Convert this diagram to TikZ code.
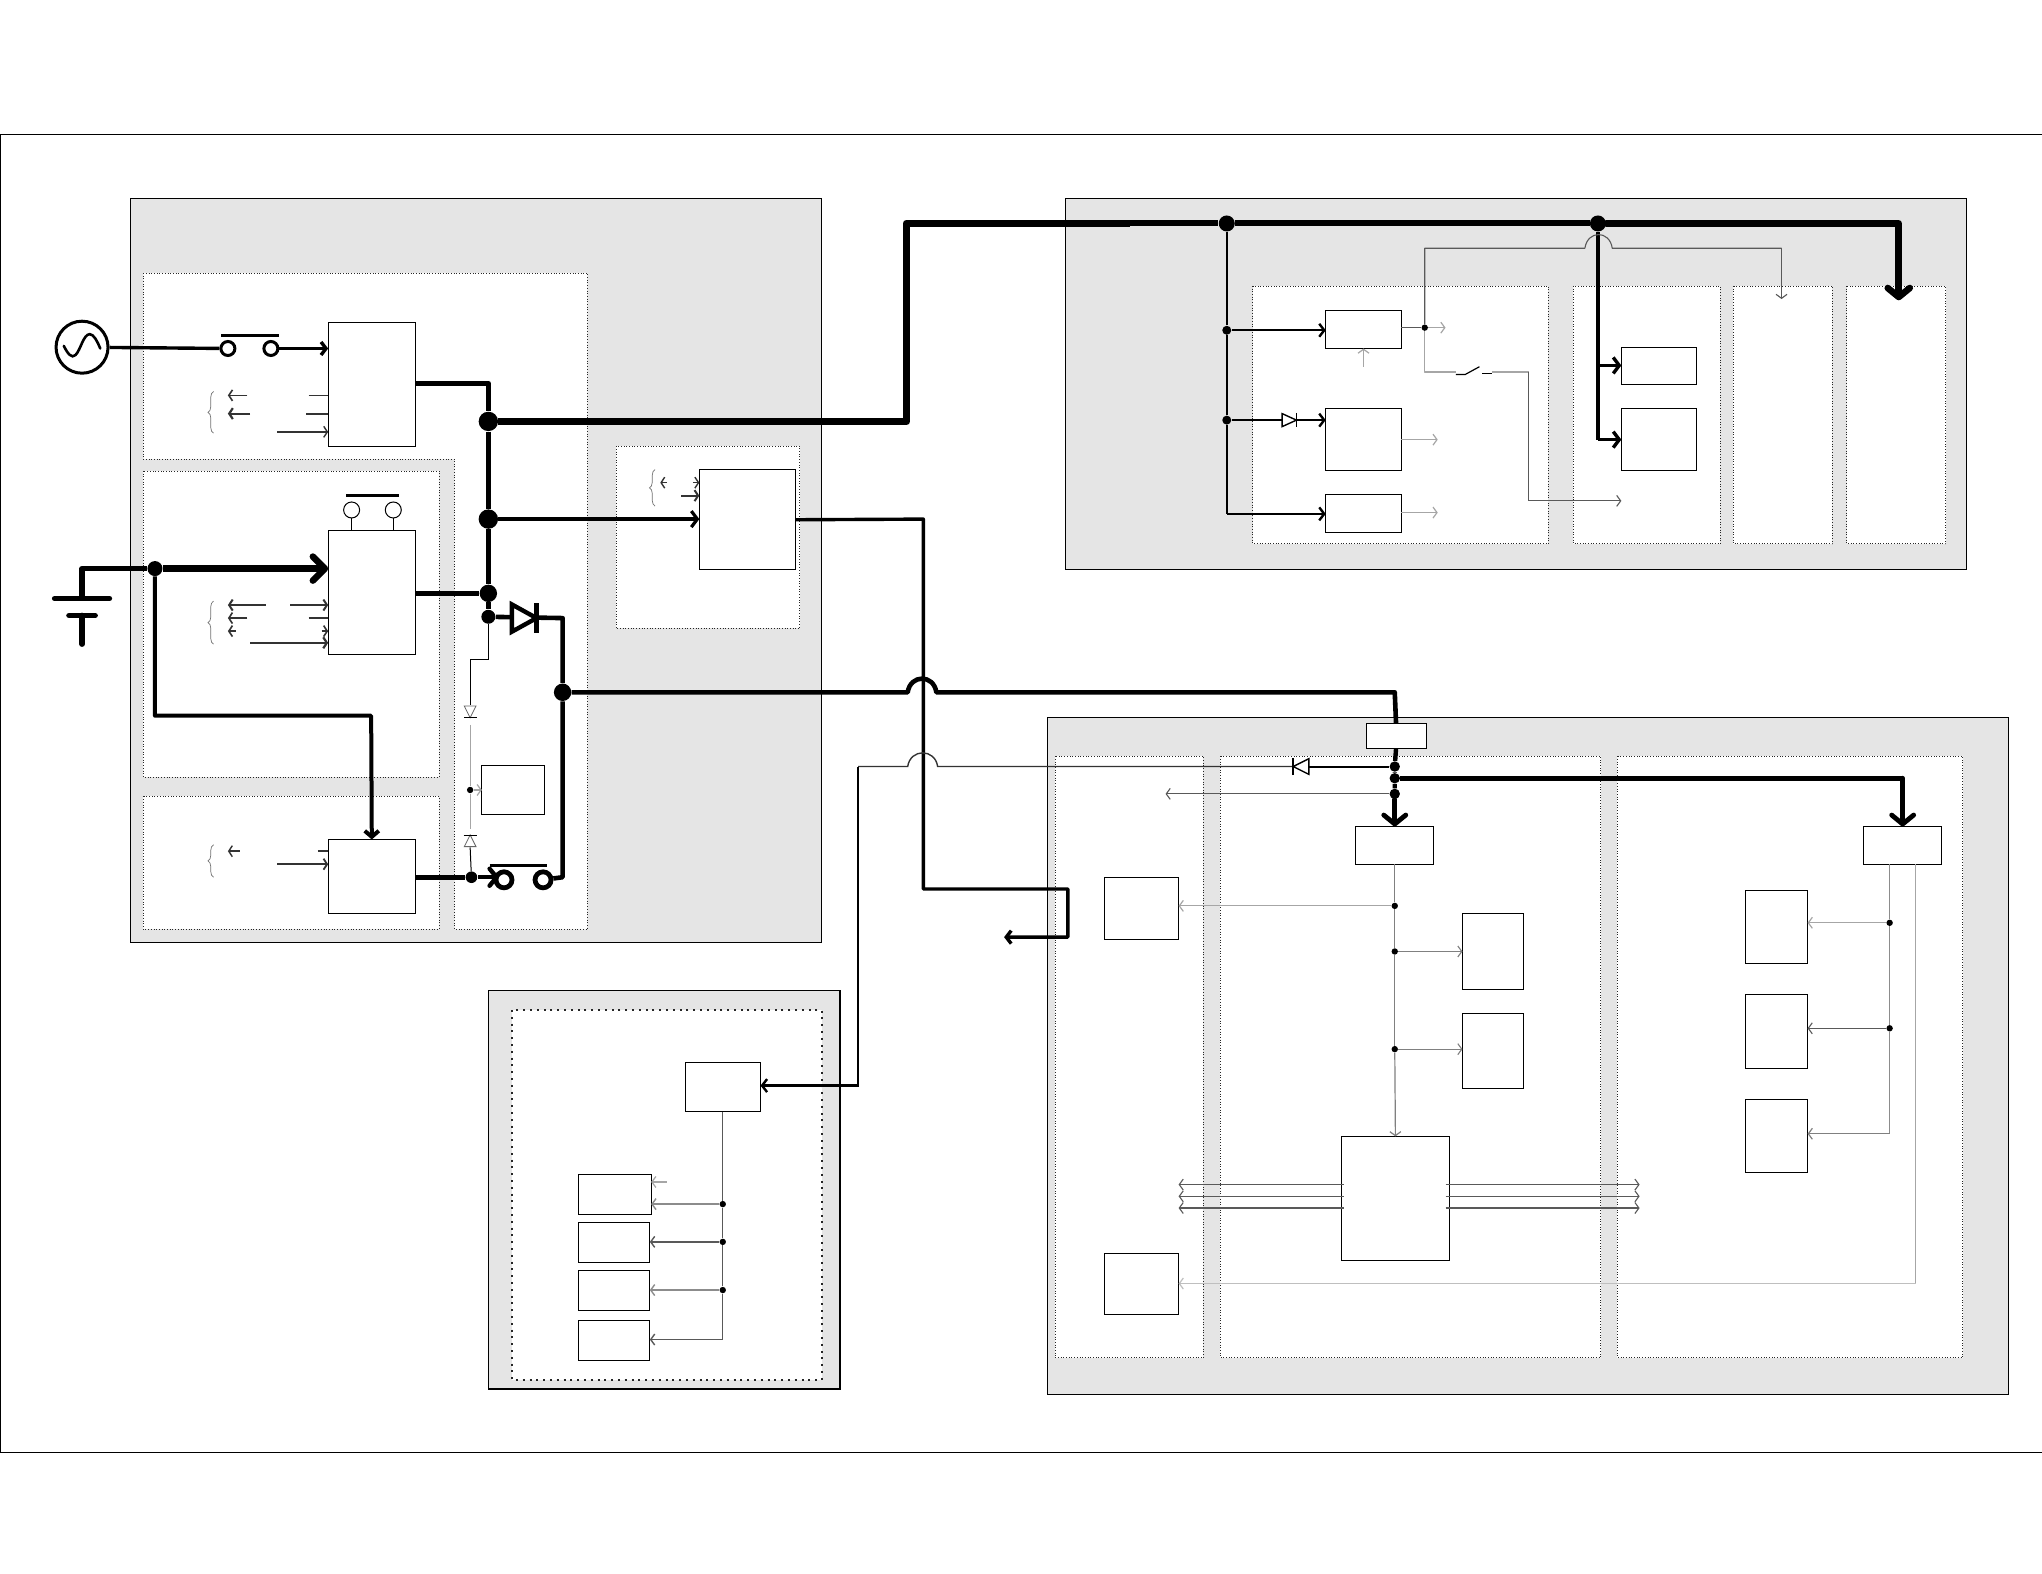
\documentclass[tikz,border=0pt]{standalone}
\usepackage{xcolor}
\usetikzlibrary{arrows.meta, fit, decorations.pathreplacing}
\definecolor{panelgray}{HTML}{E5E5E5}
\tikzset{
  panel/.style={rectangle, draw=black, line width=.55pt, fill=panelgray},
  region/.style={draw=black!85, densely dotted, line width=.35pt, fill=white},
  box/.style={rectangle, draw=black, line width=.5pt, fill=white, inner sep=0pt, outer sep=0pt},
  dot/.style={circle, fill=black, inner sep=0pt, minimum size=#1},
  dot/.default=3.2pt,
  terminal/.style={circle, draw=black, fill=white, line width=1.5pt, inner sep=0pt, minimum size=7pt},
  contact/.style={circle, draw=black, fill=white, line width=.5pt, inner sep=0pt, minimum size=8pt},
  source/.style={circle, draw=black, fill=white, line width=1.5pt, inner sep=0pt, minimum size=26pt},
  busline/.style={line width=3.3pt, line cap=round, line join=round},
  feedline/.style={line width=2.8pt, line join=round},
  powerline/.style={line width=1.7pt, line join=round},
  wireline/.style={line width=1pt, line join=round},
  signalline/.style={draw=black!65, line width=.55pt, line join=round},
  faintline/.style={draw=black!35, line width=.6pt, line join=round},
  bigtip/.style={-{Straight Barb[round,length=4.5pt,width=11pt]}},
  powertip/.style={-{Straight Barb[length=2.5pt,width=6.5pt]}},
  thintip/.style={-{Straight Barb[length=2pt,width=5.5pt]}},
  diode/.pic={
    \path[pic actions, fill=white] (-1,-1) -- (1,0) -- (-1,1) -- cycle;
    \draw[black] (1,-1.1) -- (1,1.1);
  },
}
\begin{document}
\begin{tikzpicture}[x=.6512pt, y=-.6512pt]
  \useasboundingbox (0,0) rectangle (1568,1208);
  \draw[black, line width=.4pt] (0,103) rectangle (1568,1115);

  \begin{scope}[shift={(0,.6)}]
  \node[panel, inner sep=0pt, fit={(100,152) (631,723)}] (psupanel) {};
  \node[panel, inner sep=0pt, fit={(818,152) (1510,437)}] (railpanel) {};
  \node[panel, inner sep=0pt, fit={(804,550) (1542,1070)}] (logicpanel) {};
  \node[panel, inner sep=0pt, fit={(375,760) (645,1066)}] (lamppanel) {};

  \draw[region] (110,209) -- (451,209) -- (451,713) -- (349,713) -- (349,352) -- (110,352) -- cycle;
  \draw[region] (110,361) rectangle (337,596);
  \draw[region] (110,611) rectangle (337,713);
  \draw[region] (473,342) rectangle (614,482);
  \draw[region] (962,219) rectangle (1189,417);
  \draw[region] (1208,219) rectangle (1321,417);
  \draw[region] (1331,219) rectangle (1407,417);
  \draw[region] (1418,219) rectangle (1494,417);
  \draw[region] (810,580) rectangle (924,1042);
  \draw[region] (937,580) rectangle (1229,1042);
  \draw[region] (1242,580) rectangle (1507,1042);
  \draw[region, line width=1pt, dash pattern=on 1pt off 2.4pt] (393,775) rectangle (631,1059);

  \node[box, fit={(252,247) (319,342)}] (rect) {};
  \node[box, fit={(252,407) (319,502)}] (charger) {};
  \node[box, fit={(252,644) (319,701)}] (batbox) {};
  \node[box, fit={(537,360) (611,437)}] (conv) {};
  \node[box, fit={(370,587) (418,625)}] (sense) {};

  \node[box, fit={(1018,238) (1076,267)}] (reg1) {};
  \node[box, fit={(1018,313) (1076,361)}] (reg2) {};
  \node[box, fit={(1018,379) (1076,408)}] (reg3) {};
  \node[box, fit={(1245,266) (1303,295)}] (drv1) {};
  \node[box, fit={(1245,313) (1303,361)}] (drv2) {};

  \node[box, fit={(1049,555) (1095,574)}] (fuse) {};
  \node[box, fit={(1041,634) (1101,663)}] (reglogic) {};
  \node[box, fit={(1431,634) (1491,663)}] (regio) {};
  \node[box, fit={(848,673) (905,721)}] (left1) {};
  \node[box, fit={(848,962) (905,1009)}] (left2) {};
  \node[box, fit={(1123,701) (1170,759)}] (mid1) {};
  \node[box, fit={(1123,778) (1170,835)}] (mid2) {};
  \node[box, fit={(1030,872) (1113,967)}] (cpu) {};
  \node[box, fit={(1340,683) (1388,739)}] (right1) {};
  \node[box, fit={(1340,763) (1388,820)}] (right2) {};
  \node[box, fit={(1340,844) (1388,900)}] (right3) {};

  \node[box, fit={(526,815) (584,853)}] (lampdrv) {};
  \node[box, fit={(444,901) (500,932)}] (lamp1) {};
  \node[box, fit={(444,938) (499,969)}] (lamp2) {};
  \node[box, fit={(444,975) (499,1006)}] (lamp3) {};
  \node[box, fit={(444,1013) (499,1044)}] (lamp4) {};

  \node[source] (ac) at (63,266) {};
  \draw[line width=1.3pt, line cap=round] (49,265) .. controls (52,271) and (55,275) .. (58,272) .. controls (62,268) and (64,256) .. (69,256) .. controls (72,256) and (75,262) .. (77,267);
  \node[terminal] (swa) at (175,267) {};
  \node[terminal] (swb) at (208,267) {};
  \draw[line width=1.5pt] (170,257) -- (214,257);
  \draw[powerline] (ac) -- (swa);
  \draw[powerline, powertip] (swb) -- (swb -| rect.west);

  \node[dot=9.7pt] (jbusa) at (375,323) {};
  \node[dot=9.7pt] (jbusb) at (375,398) {};
  \node[dot=8.7pt] (jbusc) at (375,455) {};
  \node[dot=7pt] (jbusd) at (375,473) {};
  \node[dot=8.7pt] (jout) at (432,531) {};
  \coordinate (railtop) at (375,294);
  \draw[feedline] (rect.east |- railtop) -- (railtop) -- (jbusa);
  \draw[feedline] (jbusa) -- (jbusb) -- (jbusc);
  \draw[feedline] (jbusc -| charger.east) -- (jbusc);
  \draw[powerline, line width=2.2pt] (jbusc) -- (jbusd);

  \coordinate (busjog) at (868,171);
  \node[dot=8pt] (jraila) at (942,171) {};
  \node[dot=8pt] (jrailb) at (1227,171) {};
  \coordinate (buscorner) at (1458,171);
  \coordinate (busend) at (1458,230);
  \draw[busline, line width=3.8pt, line cap=butt] (jbusa) -| (696,171) -- (busjog);
  \draw[busline, line width=3pt, line cap=butt] (busjog) -- (jraila);
  \draw[busline, line width=3pt, line cap=butt] (jraila) -- (jrailb);
  \draw[busline, bigtip] (jrailb) -- (buscorner) -- (busend);

  \draw[powerline, powertip, line width=1.6pt, -{Straight Barb[length=3pt,width=8pt]}] (jbusb) -- (jbusb -| conv.west);

  \coordinate (convout) at (conv.east);
  \coordinate (mainsout) at (771,719);
  \draw[powerline, powertip] (convout) -- (709,398) -- (709,682) -- (820,682) -- (820,719) -- (mainsout);

  \node[dot=5.8pt] (jbat) at (362,673) {};
  \coordinate (swcin) at (383,673);
  \draw[powerline, line width=2.4pt] (jbat -| batbox.east) -- (jbat);
  \draw[powerline, line width=2.2pt, -{Straight Barb[round,length=3.5pt,width=8.5pt]}] (jbat) -- (swcin);
  \node[terminal, line width=2.4pt, minimum size=8pt] (swc) at (387,675) {};
  \node[terminal, line width=2.4pt, minimum size=8pt] (swd) at (417,675) {};
  \draw[line width=1.8pt] (376,664) -- (420,664);
  \coordinate (dcorner) at (432,474);
  \coordinate (dbottom) at (432,673);
  \draw[powerline, line width=2.3pt] (jbusd) -- (dcorner) -- (jout) -- (dbottom) -- (swd);
  \pic[draw=black, line width=2.2pt, xscale=9.5, yscale=10.5] at (402.5,474) {diode};

  \coordinate (hopa) at (697,531);
  \coordinate (hopb) at (719,531);
  \coordinate (fusecorner) at (1071,531);
  \draw[powerline, line width=2.3pt] (jout) -- (hopa) .. controls +(2,-14) and +(-2,-14) .. (hopb) -- (fusecorner) -- (fuse.north);

  \node[dot=7.5pt] (jbatt) at (119,436) {};
  \coordinate (battop) at (63,436);
  \coordinate (batplus) at (63,459);
  \coordinate (batminus) at (63,472);
  \coordinate (batend) at (63,494);
  \draw[feedline] (jbatt) -- (battop) -- (batplus);
  \draw[feedline, line cap=round] (42,459) -- (84,459);
  \draw[feedline, line cap=round] (53,472) -- (73,472);
  \draw[feedline, line cap=round] (batminus) -- (batend);
  \draw[busline, line cap=butt, bigtip, -{Straight Barb[round,length=6pt,width=12pt]}] (jbatt) -- (jbatt -| charger.west);
  \draw[powerline, line width=2pt, -{Straight Barb[length=3pt,width=7pt]}] (jbatt) |- (285,549) -- (batbox.north);

  \node[contact] (btna) at (270,391) {};
  \node[contact] (btnb) at (302,391) {};
  \draw[line width=1.2pt] (266,380) -- (306,380);
  \draw[line width=.5pt] (btna) -- (btna |- charger.north);
  \draw[line width=.5pt] (btnb) -- (btnb |- charger.north);

  \foreach \n/\xa/\xb/\y/\w in {rl1/190/175/303/.8pt, rl2/192/175/317/1.1pt, rr3/213/252/331/.7pt,
    cl1/204/175/464/1pt, cr1/223/252/464/1pt, cl2/190/175/474/.8pt, cl3/181/175/484/.8pt, cr3/247/252/484/.8pt, cr4/192/252/493/1.1pt,
    bl1/184/175/653/.7pt, br2/213/252/663/.9pt,
    vl1/512/507/370/.7pt, vr1/532/537/370/.7pt, vr2/523/537/380/1pt} {
    \coordinate (\n a) at (\xa,\y);
    \coordinate (\n b) at (\xb,\y);
    \draw[line width=\w, black!80, -{Straight Barb[length=1.8pt,width=5.5pt]}] (\n a) -- (\n b);
  }
  \foreach \n/\xa/\y/\w in {rs1/237/303/.7pt, rs2/235/317/1pt, cs2/237/474/.7pt, bs1/244/653/.7pt} {
    \coordinate (\n) at (\xa,\y);
    \draw[line width=\w, black!80] (\n) -- (\n -| rect.west);
  }
  \foreach \yb/\yt/\x in {332/300/164, 494/461/164, 673/648/164, 388/360/503} {
    \draw[black!55, line width=.35pt, decorate, decoration={brace, amplitude=2.8pt}] (\x,\yb) -- (\x,\yt);
  }

  \coordinate (thina) at (375,506);
  \coordinate (thinb) at (361,506);
  \coordinate (da) at (361,541);
  \coordinate (db) at (361,650);
  \node[dot=3.2pt] (jsense) at (361,606) {};
  \draw[line width=.5pt] (jbusd) -- (thina) -- (thinb) -- (da);
  \draw[line width=.5pt] (db) -- (jbat);
  \draw[faintline] (361,556) -- (jsense) -- (361,636);
  \draw[faintline, thintip] (jsense) -- (jsense -| sense.west);
  \pic[draw=black!60, line width=.4pt, rotate=-90, xscale=4.5, yscale=4.5] at (361,546) {diode};
  \pic[draw=black!60, line width=.4pt, rotate=90, xscale=4.5, yscale=4.5] at (361,645) {diode};

  \node[dot=5.2pt] (jf1) at (1071,588) {};
  \node[dot=5.2pt] (jf2) at (1071,597) {};
  \node[dot=5.2pt] (jf3) at (1071,609) {};
  \coordinate (iocorner) at (1461,597);
  \draw[feedline, line width=2.2pt] (fuse.south) -- (jf1) -- (jf2) -- (jf3);
  \draw[busline, bigtip, line width=2.4pt] (jf3) -- (reglogic.north);
  \draw[busline, line cap=butt, line width=2.6pt] (jf2) -- (iocorner);
  \draw[busline, bigtip, line width=2.4pt] (iocorner) -- (iocorner |- regio.north);
  \draw[signalline, thintip] (jf3) -- (895,609);

  \coordinate (lampa) at (1005,588);
  \coordinate (lampb) at (993,588);
  \coordinate (hopc) at (720,588);
  \coordinate (hopd) at (697,588);
  \coordinate (lampc) at (659,588);
  \coordinate (lampd) at (659,833);
  \draw[line width=1pt] (jf1) -- (lampa);
  \draw[line width=.7pt, black!80] (lampb) -- (hopc) .. controls +(-2,-14) and +(2,-14) .. (hopd) -- (lampc);
  \draw[line width=1.2pt, powertip] (lampc) -- (lampd) -- (lampd -| lampdrv.east);
  \pic[draw=black, line width=.7pt, rotate=180, xscale=6, yscale=6] at (999,588) {diode};

  \node[dot] (jl1) at (555,924) {};
  \node[dot] (jl2) at (555,953) {};
  \node[dot] (jl3) at (555,990) {};
  \coordinate (jl4) at (555,1028);
  \draw[signalline, line width=.7pt] (lampdrv.south -| jl1) -- (jl1) -- (jl2) -- (jl3) -- (jl4);
  \draw[signalline, draw=black!45, line width=.7pt, thintip] (jl1) -- (jl1 -| lamp1.east);
  \draw[signalline, line width=.7pt, thintip] (jl2) -- (jl2 -| lamp2.east);
  \draw[signalline, draw=black!45, line width=.7pt, thintip] (jl3) -- (jl3 -| lamp3.east);
  \draw[signalline, line width=.7pt, thintip] (jl4) -- (jl4 -| lamp4.east);
  \coordinate (lampstub) at (512,907);
  \draw[faintline, thintip] (lampstub) -- (lampstub -| lamp1.east);

  \node[dot=4.5pt] (jrail1) at (942,253) {};
  \node[dot=4.5pt] (jrail2) at (942,322) {};
  \coordinate (jrail3) at (942,394);
  \draw[wireline] (jraila) -- (jrail1) -- (jrail2) -- (jrail3);
  \draw[wireline, line width=1.2pt, powertip] (jrail1) -- (jrail1 -| reg1.west);
  \draw[wireline, line width=1.2pt, powertip] (jrail2) -- (jrail2 -| reg2.west);
  \draw[wireline, line width=1.2pt, powertip] (jrail3) -- (jrail3 -| reg3.west);
  \pic[draw=black, line width=.7pt, xscale=5.5, yscale=5] at (990,322) {diode};

  \coordinate (drvcorner) at (1227,337);
  \coordinate (drvtap) at (1227,280);
  \draw[powerline] (jrailb) -- (drvtap) -- (drvcorner);
  \draw[powerline, -{Straight Barb[length=3pt,width=8pt]}] (drvtap) -- (drvtap -| drv1.west);
  \draw[powerline, -{Straight Barb[length=3pt,width=8pt]}] (drvcorner) -- (drvcorner -| drv2.west);

  \node[dot=3.2pt] (jreg) at (1094,251) {};
  \coordinate (regout) at (1110,251);
  \coordinate (lttop) at (1094,190);
  \coordinate (hope) at (1217,190);
  \coordinate (hopf) at (1238,190);
  \coordinate (ltcorner) at (1368,190);
  \coordinate (ltend) at (1368,229);
  \coordinate (swin) at (1094,285);
  \coordinate (swout) at (1174,285);
  \coordinate (swend) at (1174,384);
  \draw[signalline] (jreg -| reg1.east) -- (jreg);
  \draw[faintline, thintip] (jreg) -- (regout);
  \draw[signalline] (jreg) -- (lttop) -- (hope) .. controls +(2,-14) and +(-2,-14) .. (hopf) -- (ltcorner);
  \draw[signalline, thintip] (ltcorner) -- (ltend);
  \draw[faintline] (jreg) -- (swin) -- (1118,285);
  \draw[line width=.6pt] (1118,287) -- (1125,287) -- (1136,281);
  \draw[line width=.6pt] (1138,286) -- (1146,286);
  \draw[faintline] (1146,285) -- (swout);
  \draw[signalline] (swout) -- (swend);
  \draw[signalline, thintip] (swend) -- (swend -| drv2.west);
  \coordinate (regin) at (1047,281);
  \coordinate (reg2out) at (1104,337);
  \coordinate (reg3out) at (1104,393);
  \draw[faintline, thintip] (regin) -- (reg1.south);
  \draw[faintline, thintip] (reg2out -| reg2.east) -- (reg2out);
  \draw[faintline, thintip] (reg3out -| reg3.east) -- (reg3out);

  \node[dot] (jlog1) at (1071,695) {};
  \node[dot] (jlog2) at (1071,730) {};
  \node[dot] (jlog3) at (1071,805) {};
  \draw[faintline, draw=black!50] (reglogic.south) -- (jlog1) -- (jlog2) -- (jlog3);
  \draw[faintline, draw=black!50, thintip] (jlog3) -- (cpu.north);
  \draw[faintline, thintip] (jlog1) -- (jlog1 -| left1.east);
  \draw[signalline, draw=black!50, thintip] (jlog2) -- (jlog2 -| mid1.west);
  \draw[signalline, draw=black!50, thintip] (jlog3) -- (jlog3 -| mid2.west);

  \foreach \y in {909,918,927} {
    \coordinate (cpuw\y) at (1032,\y);
    \coordinate (cpue\y) at (1110,\y);
    \coordinate (cpul\y) at (905,\y);
    \coordinate (cpur\y) at (1259,\y);
    \draw[signalline, thintip] (cpuw\y) -- (cpul\y);
    \draw[signalline, thintip] (cpue\y) -- (cpur\y);
  }

  \node[dot] (jio1) at (1451,708) {};
  \node[dot] (jio2) at (1451,789) {};
  \coordinate (jio3) at (1451,870);
  \coordinate (iob) at (1471,985);
  \draw[faintline, draw=black!45] (regio.south -| jio1) -- (jio1) -- (jio2) -- (jio3);
  \draw[faintline, thintip] (jio1) -- (jio1 -| right1.east);
  \draw[signalline, thintip] (jio2) -- (jio2 -| right2.east);
  \draw[faintline, draw=black!50, thintip] (jio3) -- (jio3 -| right3.east);
  \draw[faintline] (regio.south -| iob) -- (iob);
  \draw[faintline, draw=black!25, thintip] (iob) -- (iob -| left2.east);
  \end{scope}
\end{tikzpicture}
\end{document}
